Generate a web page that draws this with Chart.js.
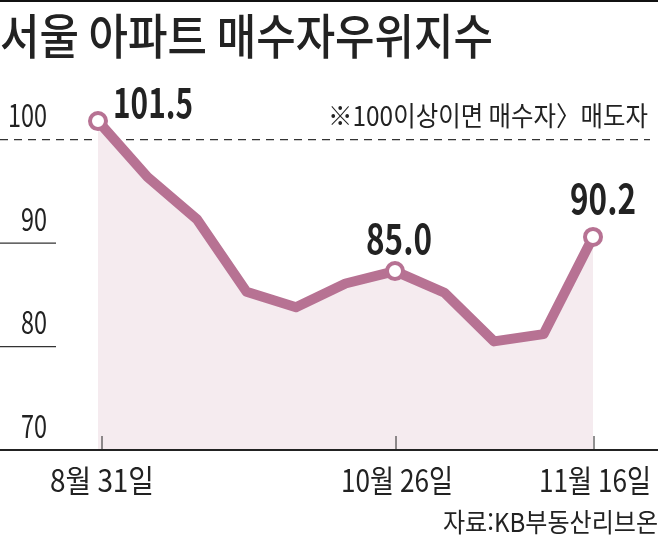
<!DOCTYPE html>
<html lang="ko">
<head>
<meta charset="utf-8">
<title>서울 아파트 매수자우위지수</title>
<script src="https://cdn.jsdelivr.net/npm/chart.js@4/dist/chart.umd.min.js"></script>
<style>
  html, body { margin: 0; padding: 0; background: #fff; }
  #wrap { position: relative; width: 658px; height: 539px; }
</style>
</head>
<body>
<div id="wrap"><canvas id="chart"></canvas></div>
<script>
// 차트 데이터 (점 위치는 그림에서 읽은 값, 라벨은 인쇄된 값)
const categories = ["8월 31일", "", "", "", "", "", "10월 26일", "", "", "", "11월 16일"];
const indexValues = [101.8, 96.4, 92.3, 85.3, 83.8, 86.1, 87.3, 85.2, 80.5, 81.2, 90.6];
const markedPoints = [0, 6, 10];
const markedLabels = ["101.5", "85.0", "90.2"];
const yTicks = [100, 90, 80, 70];

const FONT = '"Noto Sans CJK KR", "Noto Sans", sans-serif';
const LINE_COLOR = "#b77293";
const FILL_COLOR = "#f5ebef";
const INK = "#222222";

function drawText(ctx, str, x, y, font, width, align) {
  ctx.save();
  ctx.font = font;
  ctx.fillStyle = INK;
  ctx.textBaseline = "middle";
  ctx.textAlign = align || "center";
  ctx.fillText(str, x, y, width);
  ctx.restore();
}

// 그리드, 눈금, 글자
const guidePlugin = {
  id: "guides",
  beforeDatasetsDraw(chart) {
    const { ctx, scales: { y } } = chart;
    ctx.save();
    ctx.fillStyle = "#111";
    ctx.fillRect(0, 0, 658, 2);

    ctx.strokeStyle = "#333";
    ctx.lineWidth = 1.3;

    // 100 기준선
    ctx.setLineDash([8, 6]);
    ctx.beginPath();
    ctx.moveTo(0, y.getPixelForValue(100));
    ctx.lineTo(650, y.getPixelForValue(100));
    ctx.stroke();
    ctx.setLineDash([]);

    [90, 80].forEach(v => {
      ctx.beginPath();
      ctx.moveTo(0, y.getPixelForValue(v));
      ctx.lineTo(56, y.getPixelForValue(v));
      ctx.stroke();
    });
    ctx.restore();
  },
  afterDatasetsDraw(chart) {
    const { ctx, scales: { x, y } } = chart;
    const base = y.getPixelForValue(70);

    ctx.save();
    ctx.strokeStyle = "#222";
    ctx.lineWidth = 2;
    ctx.beginPath();
    ctx.moveTo(0, base);
    ctx.lineTo(658, base);
    ctx.stroke();
    ctx.lineWidth = 1;
    markedPoints.forEach((idx, n) => {
      const px = x.getPixelForValue(idx) + (n === 0 ? 4 : 1);
      ctx.beginPath();
      ctx.moveTo(px, base - 14);
      ctx.lineTo(px, base);
      ctx.stroke();
    });
    ctx.restore();

    drawText(ctx, "서울 아파트 매수자우위지수", 0, 36, `500 48px ${FONT}`, 493, "left");
    drawText(ctx, "※100이상이면 매수자〉매도자", 648, 116, `400 27px ${FONT}`, 320, "right");
    drawText(ctx, "자료:KB부동산리브온", 658, 522, `400 26px ${FONT}`, 215, "right");

    yTicks.forEach(v => {
      const w = String(v).length === 3 ? 39 : 26;
      drawText(ctx, String(v), 47, y.getPixelForValue(v) - 24, `400 31px ${FONT}`, w, "right");
    });

    markedPoints.forEach((idx, n) => {
      const px = x.getPixelForValue(idx);
      const py = y.getPixelForValue(indexValues[idx]);
      const bold = `700 41px ${FONT}`;
      if (n === 0) drawText(ctx, markedLabels[n], px + 55, py - 19, bold, 80);
      else if (n === 1) drawText(ctx, markedLabels[n], px + 4, py - 33, bold, 66);
      else drawText(ctx, markedLabels[n], px + 10, py - 39, bold, 66);

      const width = categories[idx].length > 6 ? 112 : 104;
      drawText(ctx, categories[idx], px + (n === 0 ? 4 : 2), 480, `400 31px ${FONT}`, width);
    });
  },
};

new Chart(document.getElementById("chart").getContext("2d"), {
  type: "line",
  data: {
    labels: categories,
    datasets: [{
      data: indexValues,
      borderColor: LINE_COLOR,
      backgroundColor: FILL_COLOR,
      borderWidth: 10,
      borderJoinStyle: "round",
      tension: 0,
      fill: "start",
      clip: false,
      pointRadius: indexValues.map((_, i) => markedPoints.includes(i) ? 8 : 0),
      pointBorderWidth: 4,
      pointBorderColor: LINE_COLOR,
      pointBackgroundColor: "#fff",
    }],
  },
  options: {
    responsive: true,
    maintainAspectRatio: false,
    animation: false,
    layout: { padding: { left: 98, right: 65, top: 88, bottom: 89 } },
    plugins: { legend: { display: false }, tooltip: { enabled: false } },
    scales: {
      x: { display: false, offset: false },
      y: { display: false, min: 70, max: 105 },
    },
  },
  plugins: [guidePlugin],
});
</script>
</body>
</html>
